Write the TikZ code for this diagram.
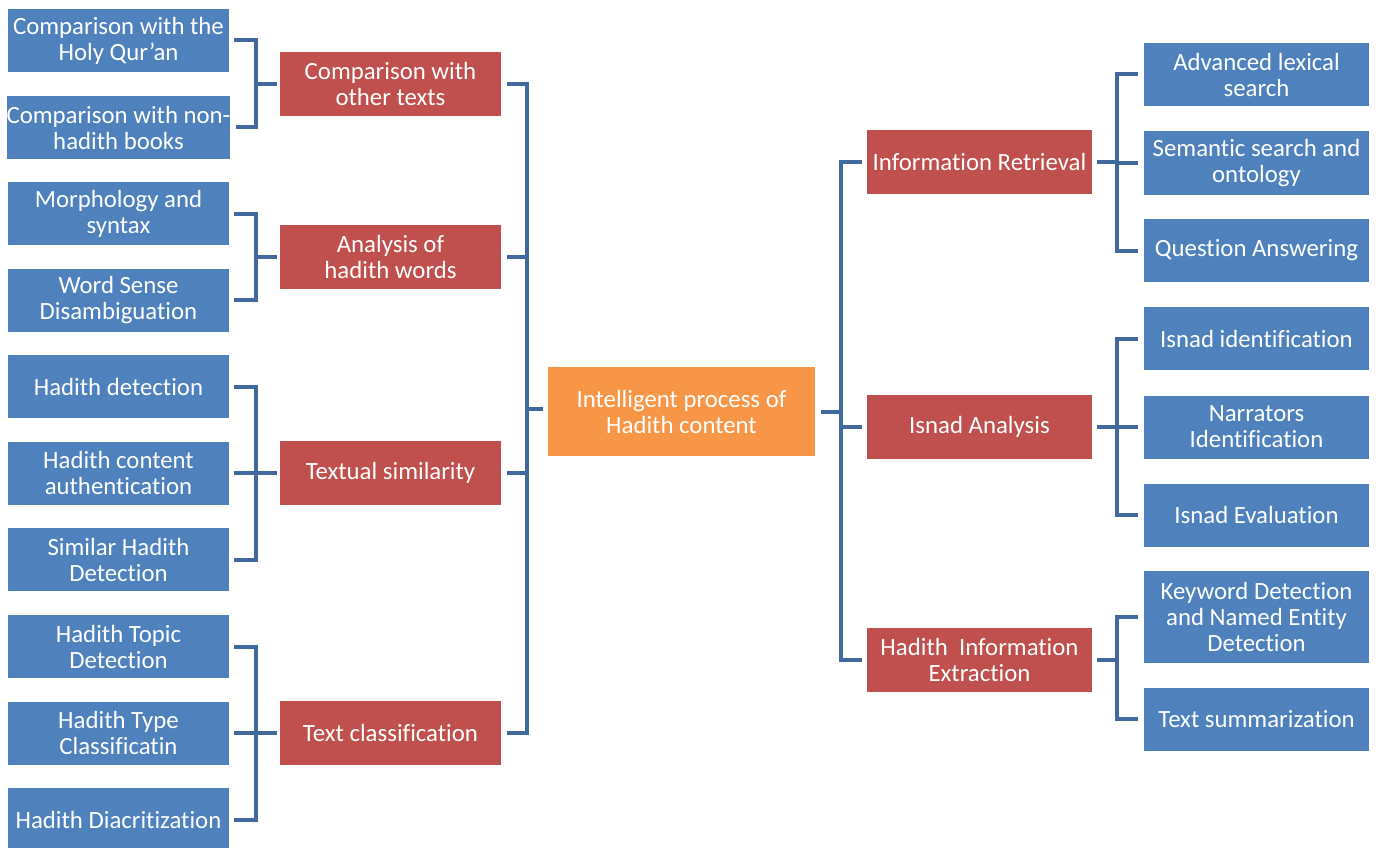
\documentclass[tikz,border=0pt]{standalone}
\usepackage{fontspec}
\setmainfont[Ligatures=CommonOff]{Carlito}
\usepackage{xcolor}
\usepackage{tikz}
\definecolor{leafblue}{HTML}{4F81BD}
\definecolor{branchred}{HTML}{C0504D}
\definecolor{coreorange}{HTML}{F79646}
\definecolor{linkblue}{HTML}{41699E}

\begin{document}
\begin{tikzpicture}[x=1pt,y=-1pt]

	\tikzstyle{box}=[rectangle,text=white,align=center,inner sep=0pt,font=\fontsize{24.8}{26}\selectfont]
	\tikzstyle{leaf}=[box,fill=leafblue,minimum width=221pt,minimum height=63pt]
	\tikzstyle{rleaf}=[leaf,minimum width=225pt]
	\tikzstyle{branch}=[box,fill=branchred,minimum width=221pt,minimum height=64pt]
	\tikzstyle{rbranch}=[branch,minimum width=225pt]
	\tikzstyle{core}=[box,fill=coreorange,minimum width=267pt,minimum height=89pt]
	\tikzstyle{link}=[draw=linkblue,line width=4pt]

	\useasboundingbox (0,0) rectangle (1376,848);

	% center
	\node[core] (hadith) at (681.5,411.5) {Intelligent process of\\Hadith content};

	% left branches
	\node[branch] (compare) at (390.5,84) {Comparison with\\other texts};
	\node[branch] (words) at (390.5,257) {Analysis of\\hadith words};
	\node[branch] (similar) at (390.5,473) {Textual similarity};
	\node[branch] (classify) at (390.5,733) {Text classification};

	% left leaves
	\node[leaf] (quran) at (118.5,40.5) {Comparison with the\\Holy Qur’an};
	\node[leaf] (books) at (118.5,127.5) {Comparison with non-\\hadith books};
	\node[leaf] (morph) at (118.5,213.5) {Morphology and\\syntax};
	\node[leaf] (wsd) at (118.5,300) {Word Sense\\Disambiguation};
	\node[leaf] (detect) at (118.5,386.5) {Hadith detection};
	\node[leaf] (auth) at (118.5,473) {Hadith content\\authentication};
	\node[leaf] (simdet) at (118.5,559.5) {Similar Hadith\\Detection};
	\node[leaf] (topic) at (118.5,646.5) {Hadith Topic\\Detection};
	\node[leaf] (type) at (118.5,733) {Hadith Type\\Classificatin};
	\node[leaf] (diacr) at (118.5,819.5) {Hadith Diacritization};

	% right branches
	\node[rbranch] (retrieval) at (979.5,162) {Information Retrieval};
	\node[rbranch] (isnad) at (979.5,427) {Isnad Analysis};
	\node[rbranch] (extract) at (979.5,660) {Hadith\ \ Information\\Extraction};

	% right leaves
	\node[rleaf] (lexical) at (1256.5,74.5) {Advanced lexical\\search};
	\node[rleaf] (semantic) at (1256.5,163) {Semantic search and\\ontology};
	\node[rleaf] (qa) at (1256.5,250.5) {Question Answering};
	\node[rleaf] (isnadid) at (1256.5,338.5) {Isnad identification};
	\node[rleaf] (narrators) at (1256.5,427) {Narrators\\Identification};
	\node[rleaf] (isnadev) at (1256.5,515) {Isnad Evaluation};
	\node[rleaf,minimum height=92pt] (keyword) at (1256.5,617) {Keyword Detection\\and Named Entity\\Detection};
	\node[rleaf] (summary) at (1256.5,719) {Text summarization};

	% left brackets
	\draw[link] ([xshift=5pt]quran.east) -- ++(22,0) coordinate (c1) |- ([xshift=5pt]books.east);
	\draw[link] (c1 |- compare.west) -- ([xshift=-3pt]compare.west);

	\draw[link] ([xshift=5pt]morph.east) -- ++(22,0) coordinate (c2) |- ([xshift=5pt]wsd.east);
	\draw[link] (c2 |- words.west) -- ([xshift=-3pt]words.west);

	\draw[link] ([xshift=5pt]detect.east) -- ++(22,0) coordinate (c3) |- ([xshift=5pt]simdet.east);
	\draw[link] (c3 |- auth.east) -- ([xshift=5pt]auth.east);
	\draw[link] (c3 |- similar.west) -- ([xshift=-3pt]similar.west);

	\draw[link] ([xshift=5pt]topic.east) -- ++(22,0) coordinate (c4) |- ([xshift=5pt]diacr.east);
	\draw[link] (c4 |- type.east) -- ([xshift=5pt]type.east);
	\draw[link] (c4 |- classify.west) -- ([xshift=-3pt]classify.west);

	% left trunk
	\draw[link] ([xshift=6pt]compare.east) -- ++(20,0) coordinate (m1) |- ([xshift=6pt]classify.east);
	\draw[link] (m1 |- words.east) -- ([xshift=6pt]words.east);
	\draw[link] (m1 |- similar.east) -- ([xshift=6pt]similar.east);
	\draw[link] ([yshift=3pt]m1 |- hadith.west) -- ([xshift=-5pt,yshift=3pt]hadith.west);

	% right trunk
	\draw[link] ([xshift=6pt]hadith.east) -- ++(20,0) coordinate (m2);
	\draw[link] ([xshift=-5pt]retrieval.west) -- (m2 |- retrieval.west) |- ([xshift=-5pt]extract.west);
	\draw[link] (m2 |- isnad.west) -- ([xshift=-5pt]isnad.west);

	% right brackets
	\draw[link] ([xshift=5pt]retrieval.east) -- ++(20,0) coordinate (d1);
	\draw[link] ([xshift=-6pt]lexical.west) -- (d1 |- lexical.west) |- ([xshift=-6pt]qa.west);
	\draw[link] (d1 |- semantic.west) -- ([xshift=-6pt]semantic.west);

	\draw[link] ([xshift=5pt]isnad.east) -- ++(20,0) coordinate (d2);
	\draw[link] ([xshift=-6pt]isnadid.west) -- (d2 |- isnadid.west) |- ([xshift=-6pt]isnadev.west);
	\draw[link] (d2 |- narrators.west) -- ([xshift=-6pt]narrators.west);

	\draw[link] ([xshift=5pt]extract.east) -- ++(20,0) coordinate (d3);
	\draw[link] ([xshift=-6pt]keyword.west) -- (d3 |- keyword.west) |- ([xshift=-6pt]summary.west);

\end{tikzpicture}
\end{document}
